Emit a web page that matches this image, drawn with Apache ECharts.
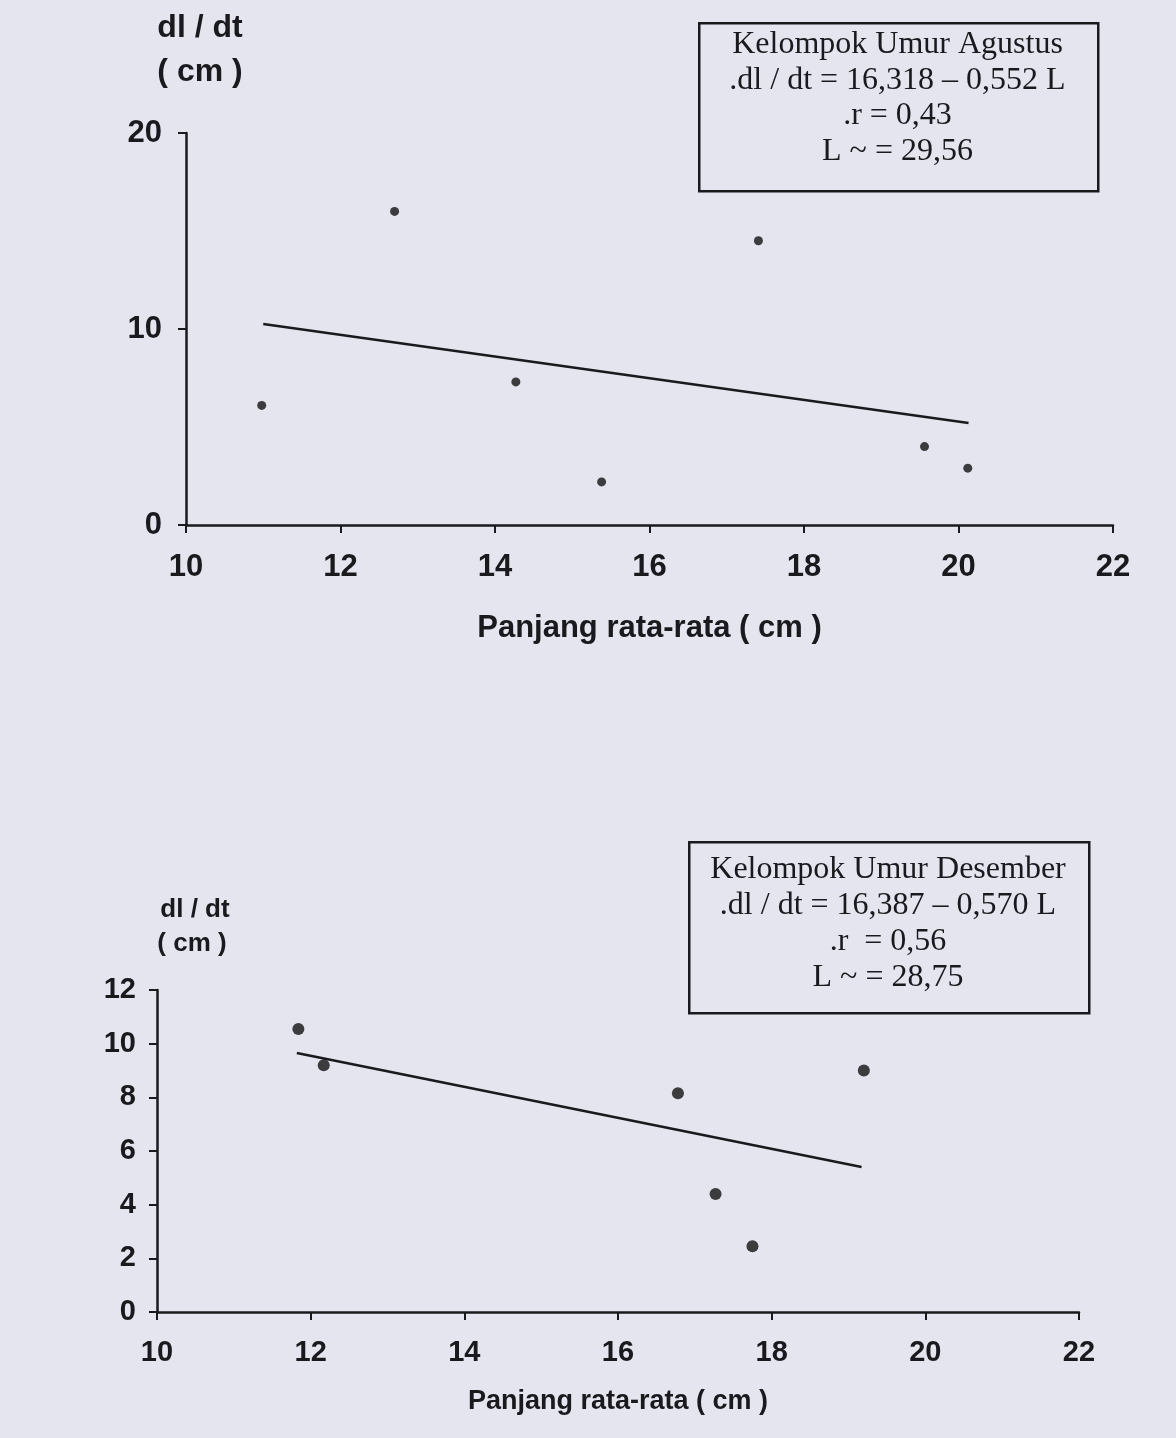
<!DOCTYPE html>
<html>
<head>
<meta charset="utf-8">
<script src="https://cdn.jsdelivr.net/npm/echarts@6/dist/echarts.min.js"></script>
<style>
html,body{margin:0;padding:0;background:#e4e5ef;}
#chart{width:1176px;height:1438px;}
</style>
</head>
<body>
<div id="chart"></div>
<script>
// ---- Data ----
var xTicksTop = [10, 12, 14, 16, 18, 20, 22];
var yTicksTop = [0, 10, 20];
var xTicksBottom = [10, 12, 14, 16, 18, 20, 22];
var yTicksBottom = [0, 2, 4, 6, 8, 10, 12];

// August cohort: [mean length L (cm), dl/dt (cm)]
var augustPoints = [[10.98, 6.1], [12.70, 16.0], [14.27, 7.3], [15.38, 2.2], [17.41, 14.5], [19.56, 4.0], [20.12, 2.9]];
var augustLine = [[11.0, 10.25], [20.13, 5.2]];

// December cohort
var decemberPoints = [[11.84, 10.55], [12.17, 9.2], [16.78, 8.15], [17.27, 4.4], [17.75, 2.45], [19.20, 9.0]];
var decemberLine = [[11.82, 9.65], [19.17, 5.4]];

var axisName = 'Panjang rata-rata ( cm )';
var yName1 = 'dl / dt';
var yName2 = '( cm )';
var boxAugust = ['Kelompok Umur Agustus', '.dl / dt = 16,318 \u2013 0,552 L', '.r = 0,43', 'L ~ = 29,56'];
var boxDecember = ['Kelompok Umur Desember', '.dl / dt = 16,387 \u2013 0,570 L', '.r  = 0,56', 'L ~ = 28,75'];

// ---- Chart ----
var ink = '#1a1a1e';
var sans = '"Liberation Sans", Arial, sans-serif';
var serif = '"Liberation Serif", "Times New Roman", serif';

function xAxisCfg(idx, ticks, fs, nfs, gap, margin) {
  return {
    type: 'value', gridIndex: idx,
    min: ticks[0], max: ticks[ticks.length - 1], interval: ticks[1] - ticks[0],
    name: axisName, nameLocation: 'middle', nameGap: gap,
    nameTextStyle: {color: ink, fontFamily: sans, fontWeight: 'bold', fontSize: nfs},
    axisLine: {show: true, onZero: false, lineStyle: {color: ink, width: 2.5}},
    axisTick: {show: true, inside: false, length: 8, lineStyle: {color: ink, width: 2}},
    axisLabel: {color: ink, fontFamily: sans, fontWeight: 'bold', fontSize: fs, margin: margin},
    splitLine: {show: false}
  };
}
function yAxisCfg(idx, ticks, fs, margin) {
  return {
    type: 'value', gridIndex: idx,
    min: ticks[0], max: ticks[ticks.length - 1], interval: ticks[1] - ticks[0],
    axisLine: {show: true, onZero: false, lineStyle: {color: ink, width: 2.5}},
    axisTick: {show: true, inside: false, length: 8, lineStyle: {color: ink, width: 2}},
    axisLabel: {color: ink, fontFamily: sans, fontWeight: 'bold', fontSize: fs, margin: margin},
    splitLine: {show: false}
  };
}

function boxGraphics(lines, left, top, w, h, firstY, lineGap, fs) {
  var els = [{
    type: 'rect', left: left, top: top,
    shape: {width: w, height: h},
    style: {fill: 'transparent', stroke: ink, lineWidth: 2.5}
  }];
  for (var i = 0; i < lines.length; i++) {
    els.push({
      type: 'text', x: left + w / 2, y: firstY + i * lineGap,
      style: {text: lines[i], fill: ink, font: fs + 'px ' + serif, textAlign: 'center', textVerticalAlign: 'middle'}
    });
  }
  return els;
}

var graphics = [];
graphics = graphics.concat(boxGraphics(boxAugust, 698, 22, 399, 168, 45, 35.5, 32));
graphics = graphics.concat(boxGraphics(boxDecember, 688, 841, 400, 171, 870, 35.8, 32));
graphics.push({type: 'text', x: 200, y: 28, style: {text: yName1, fill: ink, font: 'bold 32px ' + sans, textAlign: 'center', textVerticalAlign: 'middle'}});
graphics.push({type: 'text', x: 200, y: 72, style: {text: yName2, fill: ink, font: 'bold 32px ' + sans, textAlign: 'center', textVerticalAlign: 'middle'}});
graphics.push({type: 'text', x: 195, y: 910, style: {text: yName1, fill: ink, font: 'bold 26px ' + sans, textAlign: 'center', textVerticalAlign: 'middle'}});
graphics.push({type: 'text', x: 192, y: 944, style: {text: yName2, fill: ink, font: 'bold 26px ' + sans, textAlign: 'center', textVerticalAlign: 'middle'}});

var chart = echarts.init(document.getElementById('chart'), null, {renderer: 'canvas'});
chart.setOption({
  backgroundColor: '#e4e5ef',
  animation: false,
  grid: [
    {left: 186, width: 927, top: 133, height: 392},
    {left: 157, width: 922, top: 990, height: 322}
  ],
  xAxis: [
    xAxisCfg(0, xTicksTop, 31, 31, 88, 27),
    xAxisCfg(1, xTicksBottom, 29, 27, 76, 26)
  ],
  yAxis: [
    yAxisCfg(0, yTicksTop, 31, 24),
    yAxisCfg(1, yTicksBottom, 29, 21)
  ],
  series: [
    {type: 'scatter', xAxisIndex: 0, yAxisIndex: 0, data: augustPoints, symbolSize: 9, itemStyle: {color: '#111'}},
    {type: 'line', xAxisIndex: 0, yAxisIndex: 0, data: augustLine, showSymbol: false, symbol: 'none', lineStyle: {color: ink, width: 2.5}},
    {type: 'scatter', xAxisIndex: 1, yAxisIndex: 1, data: decemberPoints, symbolSize: 12, itemStyle: {color: '#111'}},
    {type: 'line', xAxisIndex: 1, yAxisIndex: 1, data: decemberLine, showSymbol: false, symbol: 'none', lineStyle: {color: ink, width: 2.5}}
  ],
  graphic: graphics
});
</script>
</body>
</html>
